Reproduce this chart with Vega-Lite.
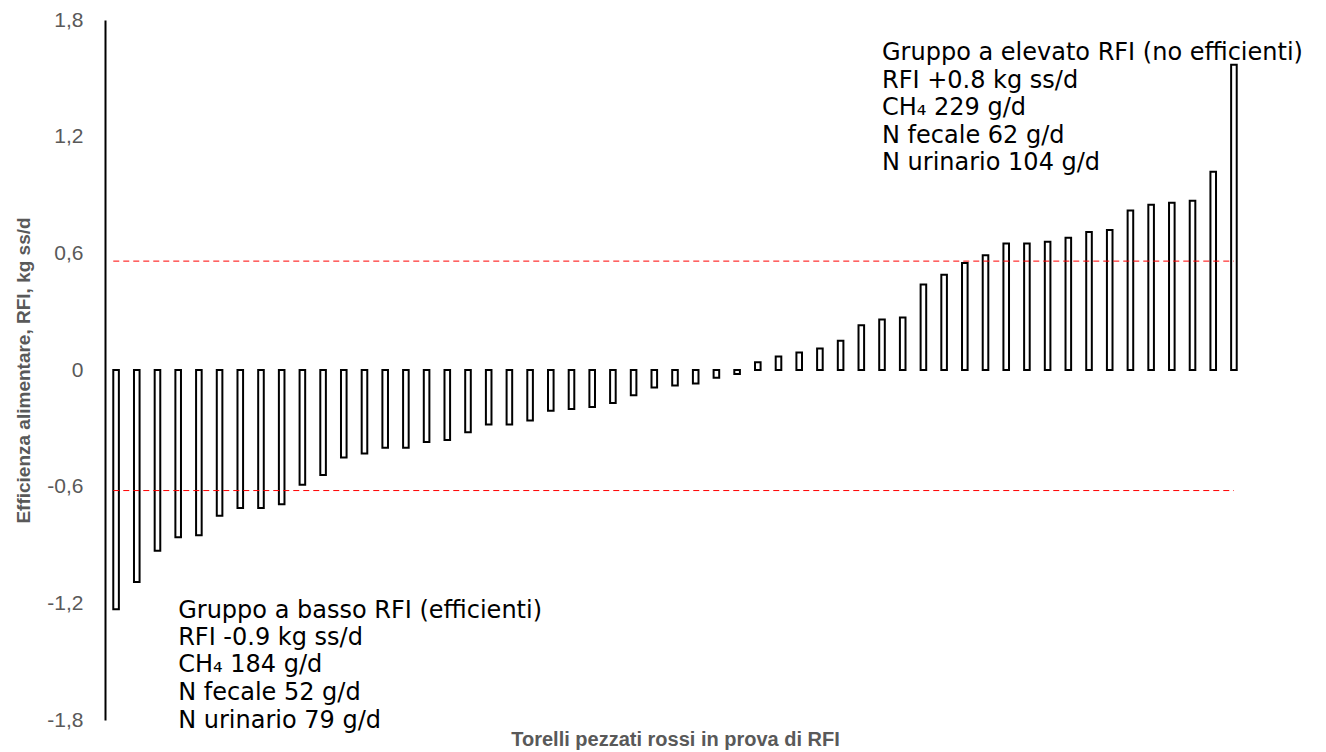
{
  "$schema": "https://vega.github.io/schema/vega-lite/v6.json",
  "width": 1140,
  "height": 700,
  "autosize": "none",
  "padding": {"left": 105, "top": 20, "right": 81, "bottom": 32},
  "background": "white",
  "config": {"view": {"stroke": null}},
  "datasets": {
    "bars": [
      {"id": "T01", "rfi": -1.23}, {"id": "T02", "rfi": -1.09}, {"id": "T03", "rfi": -0.93},
      {"id": "T04", "rfi": -0.86}, {"id": "T05", "rfi": -0.85}, {"id": "T06", "rfi": -0.75},
      {"id": "T07", "rfi": -0.71}, {"id": "T08", "rfi": -0.71}, {"id": "T09", "rfi": -0.69},
      {"id": "T10", "rfi": -0.59}, {"id": "T11", "rfi": -0.54}, {"id": "T12", "rfi": -0.45},
      {"id": "T13", "rfi": -0.43}, {"id": "T14", "rfi": -0.40}, {"id": "T15", "rfi": -0.40},
      {"id": "T16", "rfi": -0.37}, {"id": "T17", "rfi": -0.36}, {"id": "T18", "rfi": -0.32},
      {"id": "T19", "rfi": -0.28}, {"id": "T20", "rfi": -0.28}, {"id": "T21", "rfi": -0.26},
      {"id": "T22", "rfi": -0.21}, {"id": "T23", "rfi": -0.20}, {"id": "T24", "rfi": -0.19},
      {"id": "T25", "rfi": -0.17}, {"id": "T26", "rfi": -0.13}, {"id": "T27", "rfi": -0.09},
      {"id": "T28", "rfi": -0.08}, {"id": "T29", "rfi": -0.07}, {"id": "T30", "rfi": -0.04},
      {"id": "T31", "rfi": -0.02}, {"id": "T32", "rfi": 0.04}, {"id": "T33", "rfi": 0.07},
      {"id": "T34", "rfi": 0.09}, {"id": "T35", "rfi": 0.11}, {"id": "T36", "rfi": 0.15},
      {"id": "T37", "rfi": 0.23}, {"id": "T38", "rfi": 0.26}, {"id": "T39", "rfi": 0.27},
      {"id": "T40", "rfi": 0.44}, {"id": "T41", "rfi": 0.49}, {"id": "T42", "rfi": 0.55},
      {"id": "T43", "rfi": 0.59}, {"id": "T44", "rfi": 0.65}, {"id": "T45", "rfi": 0.65},
      {"id": "T46", "rfi": 0.66}, {"id": "T47", "rfi": 0.68}, {"id": "T48", "rfi": 0.71},
      {"id": "T49", "rfi": 0.72}, {"id": "T50", "rfi": 0.82}, {"id": "T51", "rfi": 0.85},
      {"id": "T52", "rfi": 0.86}, {"id": "T53", "rfi": 0.87}, {"id": "T54", "rfi": 1.02},
      {"id": "T55", "rfi": 1.57}
    ],
    "limits": [
      {"from": "T01", "to": "T55", "v": 0.56},
      {"from": "T01", "to": "T55", "v": -0.62}
    ],
    "notes": [
      {"at": "T04", "v": -1.24, "label": "Gruppo a basso RFI (efficienti)"},
      {"at": "T04", "v": -1.379, "label": "RFI -0.9 kg ss/d"},
      {"at": "T04", "v": -1.517, "label": "CH₄ 184 g/d"},
      {"at": "T04", "v": -1.662, "label": "N fecale 52 g/d"},
      {"at": "T04", "v": -1.806, "label": "N urinario 79 g/d"},
      {"at": "T38", "v": 1.631, "label": "Gruppo a elevato RFI (no efficienti)"},
      {"at": "T38", "v": 1.487, "label": "RFI +0.8 kg ss/d"},
      {"at": "T38", "v": 1.348, "label": "CH₄ 229 g/d"},
      {"at": "T38", "v": 1.204, "label": "N fecale 62 g/d"},
      {"at": "T38", "v": 1.065, "label": "N urinario 104 g/d"}
    ]
  },
  "encoding": {
    "y": {
      "type": "quantitative",
      "scale": {"domain": [-1.8, 1.8], "nice": false, "zero": false},
      "axis": {
        "title": "Efficienza alimentare, RFI, kg ss/d",
        "values": [-1.8, -1.2, -0.6, 0, 0.6, 1.2, 1.8],
        "labelExpr": "datum.value == 0 ? '0' : replace(replace(format(datum.value, '.1f'), '.', ','), '−', '-')",
        "grid": false,
        "ticks": false,
        "domain": true,
        "domainColor": "black",
        "domainWidth": 2,
        "labelColor": "#595959",
        "labelFont": "Liberation Sans",
        "labelFontSize": 21,
        "labelPadding": 22,
        "titleColor": "#595959",
        "titleFont": "Liberation Sans",
        "titleFontSize": 19,
        "titleFontWeight": "bold",
        "titlePadding": 13
      }
    }
  },
  "layer": [
    {
      "data": {"name": "bars"},
      "mark": {"type": "bar", "fill": "white", "stroke": "black", "strokeWidth": 2},
      "encoding": {
        "x": {
          "field": "id",
          "type": "ordinal",
          "scale": {"paddingInner": 0.73, "paddingOuter": 0.4},
          "axis": {
            "title": "Torelli pezzati rossi in prova di RFI",
            "labels": false,
            "ticks": false,
            "domain": false,
            "titleColor": "#595959",
            "titleFont": "Liberation Sans",
            "titleFontSize": 20,
            "titleFontWeight": "bold",
            "titlePadding": 9
          }
        },
        "y": {"field": "rfi", "type": "quantitative"}
      }
    },
    {
      "mark": {"type": "rule", "color": "black", "strokeWidth": 2},
      "encoding": {"y": {"datum": 0, "type": "quantitative"}}
    },
    {
      "data": {"name": "limits"},
      "mark": {"type": "rule", "color": "#FF0000", "strokeWidth": 1, "strokeDash": [6, 4]},
      "encoding": {
        "x": {"field": "from", "type": "ordinal", "bandPosition": 0},
        "x2": {"field": "to"},
        "y": {"field": "v", "type": "quantitative"}
      }
    },
    {
      "data": {"name": "notes"},
      "mark": {"type": "text", "align": "left", "baseline": "middle", "font": "DejaVu Sans", "fontSize": 24, "color": "black"},
      "encoding": {
        "x": {"field": "at", "type": "ordinal"},
        "y": {"field": "v", "type": "quantitative"},
        "text": {"field": "label"}
      }
    }
  ]
}
